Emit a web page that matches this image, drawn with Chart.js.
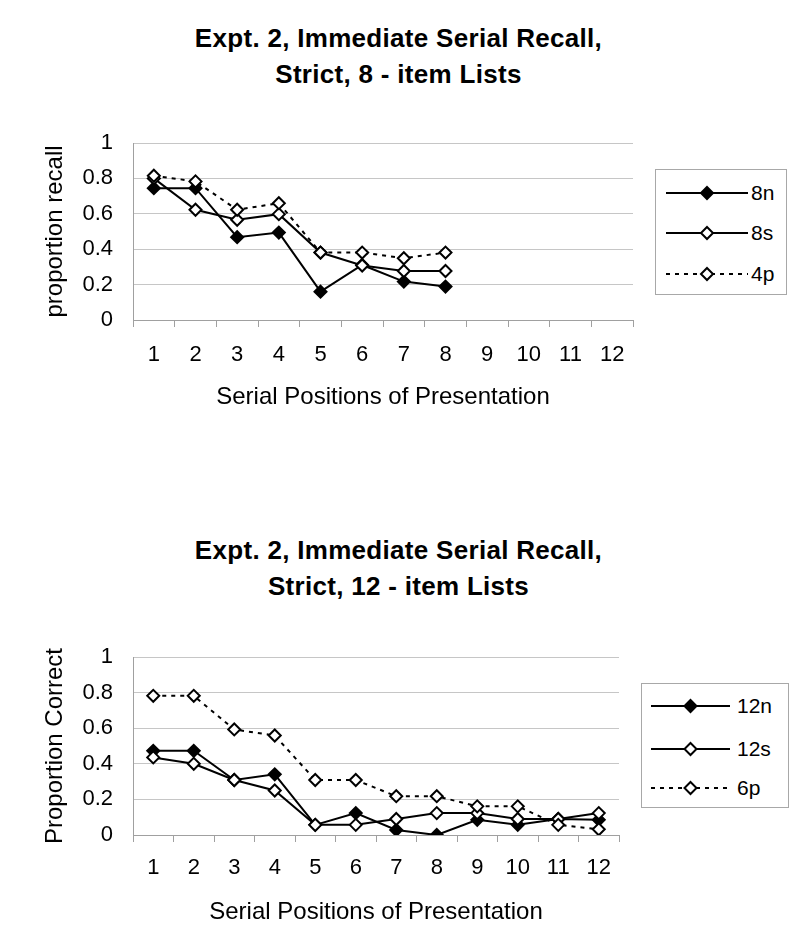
<!DOCTYPE html>
<html>
<head>
<meta charset="utf-8">
<script src="https://cdn.jsdelivr.net/npm/chart.js@4.4.1/dist/chart.umd.min.js"></script>
<style>
  html, body { margin: 0; padding: 0; background: #fff; }
  body { width: 797px; height: 939px; position: relative; overflow: hidden; font-family: 'Liberation Sans', Arial, sans-serif; }
  .title { position: absolute; left: 0; width: 797px; text-align: center; font-family: 'Liberation Sans', Arial, sans-serif; font-weight: bold; font-size: 26px; line-height: 36px; color: #000; letter-spacing: 0.3px; }
  .box { position: absolute; }
  .legend { position: absolute; border: 1px solid #a8a8a8; background: #fff; }
  .legend .item { position: absolute; left: 0; height: 20px; }
  .legend svg { position: absolute; left: 0; top: 0; }
  .legend span { position: absolute; top: -3px; font-size: 21px; line-height: 26px; color: #000; }
</style>
</head>
<body>
<div class="title" style="top:20px">Expt. 2, Immediate Serial Recall,<br>Strict, 8 - item Lists</div>
<div class="box" style="left:0;top:100px;width:645px;height:330px"><canvas id="chartTop"></canvas></div>
<div class="legend" id="legendTop" style="left:655px;top:169px;width:130px;height:124px"></div>

<div class="title" style="top:532px">Expt. 2, Immediate Serial Recall,<br>Strict, 12 - item Lists</div>
<div class="box" style="left:0;top:615px;width:632px;height:324px"><canvas id="chartBottom"></canvas></div>
<div class="legend" id="legendBottom" style="left:641px;top:683px;width:146px;height:123px"></div>

<script>
const positions = ['1', '2', '3', '4', '5', '6', '7', '8', '9', '10', '11', '12'];
const yTickLabels = ['0', '0.2', '0.4', '0.6', '0.8', '1'];

// 8-item lists
const recall8n = [0.745, 0.745, 0.468, 0.494, 0.16, 0.311, 0.217, 0.189];
const recall8s = [0.80, 0.623, 0.566, 0.598, 0.381, 0.308, 0.277, 0.277];
const recall4p = [0.815, 0.783, 0.623, 0.66, 0.381, 0.381, 0.349, 0.381];

// 12-item lists
const correct12n = [0.473, 0.473, 0.309, 0.341, 0.057, 0.123, 0.028, 0, 0.085, 0.057, 0.09, 0.085];
const correct12s = [0.436, 0.40, 0.309, 0.25, 0.057, 0.057, 0.09, 0.123, 0.123, 0.09, 0.09, 0.123];
const correct6p = [0.782, 0.782, 0.593, 0.559, 0.309, 0.309, 0.218, 0.218, 0.161, 0.161, 0.057, 0.032];

const tickFont = { family: "'Liberation Sans', Arial, sans-serif", size: 22 };
const titleFont = { family: "'Liberation Sans', Arial, sans-serif", size: 24 };
const dash = [4, 5];

function series(label, data, filled, dotted, order) {
  return {
    label,
    data,
    borderColor: '#000',
    borderWidth: 2,
    borderDash: dotted ? dash : [],
    pointStyle: 'rectRot',
    pointRadius: 6,
    pointBorderWidth: 2,
    pointBorderColor: '#000',
    pointBackgroundColor: filled ? '#000' : '#fff',
    tension: 0,
    fill: false,
    order
  };
}

function buildChart(id, datasets, yTitle, plot) {
  const ctx = document.getElementById(id).getContext('2d');
  return new Chart(ctx, {
    type: 'line',
    data: { labels: positions, datasets },
    options: {
      responsive: true,
      maintainAspectRatio: false,
      animation: false,
      layout: { padding: { top: plot.top, right: plot.right, left: 0, bottom: 0 } },
      plugins: { legend: { display: false }, tooltip: { enabled: false } },
      scales: {
        x: {
          offset: true,
          grid: { display: true, drawOnChartArea: false, drawTicks: true, tickLength: 7, color: '#a0a0a0', offset: true },
          border: { display: true, color: '#a0a0a0', width: 1 },
          ticks: { color: '#000', font: tickFont, padding: plot.xTickPad, maxRotation: 0, autoSkip: false },
          title: { display: true, text: 'Serial Positions of Presentation', color: '#000', font: titleFont, padding: { top: 0, bottom: plot.xTitlePad } },
          afterFit(scale) { scale.height = plot.xHeight; }
        },
        y: {
          min: 0,
          max: 1,
          grid: { color: '#c6c6c6', drawTicks: false, lineWidth: 1 },
          border: { display: true, color: '#a0a0a0', width: 1 },
          ticks: {
            stepSize: 0.2,
            color: '#000',
            font: tickFont,
            padding: 20,
            callback(value, index) { return yTickLabels[index]; }
          },
          title: { display: true, text: yTitle, color: '#000', font: titleFont, padding: { top: 41, bottom: 0 } },
          afterFit(scale) { scale.width = plot.yWidth; }
        }
      }
    }
  });
}

function buildLegend(id, datasets, layout) {
  const box = document.getElementById(id);
  datasets.forEach((ds, i) => {
    const item = document.createElement('div');
    item.className = 'item';
    item.style.top = (layout.rows[i] - 10) + 'px';
    item.style.width = '100%';
    const mid = (layout.lineStart + layout.lineEnd) / 2;
    const fill = ds.pointBackgroundColor;
    item.innerHTML =
      `<svg width="${layout.lineEnd + 2}" height="20">` +
      `<line x1="${layout.lineStart}" y1="10" x2="${layout.lineEnd}" y2="10" stroke="#000" stroke-width="2"` +
      (ds.borderDash.length ? ` stroke-dasharray="${ds.borderDash.join(' ')}"` : '') + `/>` +
      `<polygon points="${mid},4 ${mid + 6},10 ${mid},16 ${mid - 6},10" fill="${fill}" stroke="#000" stroke-width="2"/>` +
      `</svg><span style="left:${layout.textLeft}px">${ds.label}</span>`;
    box.appendChild(item);
  });
}

const topSets = [
  series('8n', recall8n, true, false, 2),
  series('8s', recall8s, false, false, 1),
  series('4p', recall4p, false, true, 0)
];
const bottomSets = [
  series('12n', correct12n, true, false, 2),
  series('12s', correct12s, false, false, 1),
  series('6p', correct6p, false, true, 0)
];

buildChart('chartTop', topSets, 'proportion recall', { top: 43, right: 12, yWidth: 133, xHeight: 110, xTickPad: 15, xTitlePad: 18 });
buildChart('chartBottom', bottomSets, 'Proportion Correct', { top: 42, right: 13, yWidth: 133, xHeight: 104, xTickPad: 13, xTitlePad: 12 });

buildLegend('legendTop', topSets, { rows: [23, 63, 104], lineStart: 10, lineEnd: 92, textLeft: 95 });
buildLegend('legendBottom', bottomSets, { rows: [22, 65, 104], lineStart: 9, lineEnd: 88, textLeft: 95 });
</script>
</body>
</html>
